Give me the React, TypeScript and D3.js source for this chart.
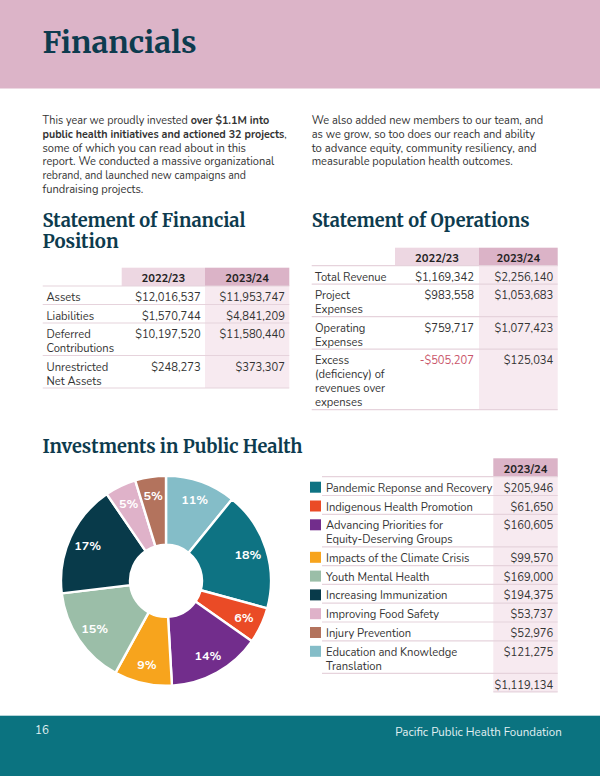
import React from "react";
import * as d3 from "d3";

const W = 600;
const H = 776;

// ---------- text content ----------
const pageTitle = "Financials";
const pageNumber = "16";
const orgName = "Pacific Public Health Foundation";

type Seg = [string, boolean];
const introLeftLines: Seg[][] = [
  [["This year we proudly invested ", false], ["over $1.1M into", true]],
  [["public health initiatives and actioned 32 projects", true], [",", false]],
  [["some of which you can read about in this", false]],
  [["report. We conducted a massive organizational", false]],
  [["rebrand, and launched new campaigns and", false]],
  [["fundraising projects.", false]],
];
const introLeftWidths = [226.8, 244.2, 203.5, 231.8, 203.5, 100.8];
const introRightLines: Seg[][] = [
  [["We also added new members to our team, and", false]],
  [["as we grow, so too does our reach and ability", false]],
  [["to advance equity, community resiliency, and", false]],
  [["measurable population health outcomes.", false]],
];
const introRightWidths = [231.6, 223.3, 225, 201];

// ---------- Statement of Financial Position ----------
const fpTitle = ["Statement of Financial", "Position"];
const years = ["2022/23", "2023/24"];
const fpLabels = [["Assets"], ["Liabilities"], ["Deferred", "Contributions"], ["Unrestricted", "Net Assets"]];
const fp2223 = [12016537, 1570744, 10197520, 248273];
const fp2324 = [11953747, 4841209, 11580440, 373307];

// ---------- Statement of Operations ----------
const opsTitle = ["Statement of Operations"];
const opsLabels = [["Total Revenue"], ["Project", "Expenses"], ["Operating", "Expenses"], ["Excess", "(deficiency) of", "revenues over", "expenses"]];
const ops2223 = [1169342, 983558, 759717, -505207];
const ops2324 = [2256140, 1053683, 1077423, 125034];

// ---------- Investments ----------
const invTitle = "Investments in Public Health";
const invYear = "2023/24";
const invCategories = [
  "Pandemic Reponse and Recovery",
  "Indigenous Health Promotion",
  "Advancing Priorities for Equity-Deserving Groups",
  "Impacts of the Climate Crisis",
  "Youth Mental Health",
  "Increasing Immunization",
  "Improving Food Safety",
  "Injury Prevention",
  "Education and Knowledge Translation",
];
const invLabelLines = [
  ["Pandemic Reponse and Recovery"],
  ["Indigenous Health Promotion"],
  ["Advancing Priorities for", "Equity-Deserving Groups"],
  ["Impacts of the Climate Crisis"],
  ["Youth Mental Health"],
  ["Increasing Immunization"],
  ["Improving Food Safety"],
  ["Injury Prevention"],
  ["Education and Knowledge", "Translation"],
];
const invValues = [205946, 61650, 160605, 99570, 169000, 194375, 53737, 52976, 121275];
const invColors = ["#0e7383", "#ea4b26", "#722d8c", "#f7a41d", "#9bbea8", "#083a4a", "#dfb2c9", "#b3735d", "#84bdc8"];
// pie starts at 12 o'clock with the last category, then the rest clockwise
const pieOrder = [8, 0, 1, 2, 3, 4, 5, 6, 7];

// ---------- styles ----------
const C = {
  band: "#dcb4c8",
  navy: "#0d3b4e",
  text: "#333333",
  hdrLight: "#edd7e2",
  hdrDark: "#dbb3c7",
  colBg: "#f7eaf0",
  rule: "#e6d3dc",
  neg: "#c9556a",
  footer: "#0b7380",
  footerText: "#e3f1f3",
};
const SANS = "Nunito, Lato, 'Noto Sans', sans-serif";
const SERIF = "Merriweather, 'DejaVu Serif', serif";

const money = (v: number) => (v < 0 ? "-" : "") + d3.format("$,.0f")(Math.abs(v));

function Paragraph({ x, y, lines, widths, lh }: { x: number; y: number; lines: Seg[][]; widths: number[]; lh: number }) {
  return (
    <g fontFamily={SANS} fontSize={11} fill={C.text}>
      {lines.map((segs, i) => (
        <text key={i} x={x} y={y + i * lh} textLength={widths[i]} lengthAdjust="spacingAndGlyphs">
          {segs.map(([t, b], j) => (
            <tspan key={j} fontWeight={b ? 700 : 400}>
              {t}
            </tspan>
          ))}
        </text>
      ))}
    </g>
  );
}

interface TableProps {
  left: number;
  right: number;
  colA: number;
  colB: number;
  labelX: number;
  valRight: [number, number];
  headerTop: number;
  headerH: number;
  labels: string[][];
  v1: number[];
  v2: number[];
}

function StatTable(p: TableProps) {
  const base = 18.5;
  const lh = 14;
  const heights = p.labels.map((l) => base + (l.length - 1) * lh);
  const bodyTop = p.headerTop + p.headerH;
  const tops = [bodyTop, ...Array.from(d3.cumsum(heights)).map((c) => bodyTop + c)];
  const bottom = tops[tops.length - 1];
  return (
    <g fontFamily={SANS} fontSize={11.2}>
      <rect x={p.colA} y={p.headerTop} width={p.colB - p.colA} height={p.headerH} fill={C.hdrLight} />
      <rect x={p.colB} y={p.headerTop} width={p.right - p.colB} height={p.headerH} fill={C.hdrDark} />
      <rect x={p.colB} y={bodyTop} width={p.right - p.colB} height={bottom - bodyTop} fill={C.colBg} />
      {years.map((yr, i) => (
        <text
          key={yr}
          x={i === 0 ? (p.colA + p.colB) / 2 : (p.colB + p.right) / 2}
          y={p.headerTop + p.headerH - 3.8}
          textAnchor="middle"
          fontWeight={700}
          fill="#222"
        >
          {yr}
        </text>
      ))}
      {tops.map((t, i) => (
        <line key={"r" + i} x1={p.left} x2={p.right} y1={t} y2={t} stroke={C.rule} strokeWidth={1.2} />
      ))}
      {p.labels.map((lines, i) => (
        <g key={i}>
          {lines.map((l, j) => (
            <text key={j} x={p.labelX} y={tops[i] + 15 + j * lh} fill={C.text}>
              {l}
            </text>
          ))}
          <text x={p.valRight[0]} y={tops[i] + 15} textAnchor="end" fill={p.v1[i] < 0 ? C.neg : C.text}>
            {money(p.v1[i])}
          </text>
          <text x={p.valRight[1]} y={tops[i] + 15} textAnchor="end" fill={p.v2[i] < 0 ? C.neg : C.text}>
            {money(p.v2[i])}
          </text>
        </g>
      ))}
    </g>
  );
}

function InvestTable() {
  const left = 322;
  const colA = 493.3;
  const right = 557.7;
  const headerTop = 458.3;
  const headerH = 18.4;
  const base = 18.8;
  const lh = 13.7;
  const heights = invLabelLines.map((l) => base + (l.length - 1) * lh);
  const bodyTop = headerTop + headerH;
  const tops = [bodyTop, ...Array.from(d3.cumsum(heights)).map((c) => bodyTop + c)];
  const endRows = tops[tops.length - 1];
  const totalBottom = endRows + 18.6;
  const total = d3.sum(invValues);
  return (
    <g fontFamily={SANS} fontSize={11.2}>
      <rect x={colA} y={headerTop} width={right - colA} height={headerH} fill={C.hdrDark} />
      <rect x={colA} y={bodyTop} width={right - colA} height={totalBottom - bodyTop} fill={C.colBg} />
      <text x={(colA + right) / 2} y={headerTop + 14.6} textAnchor="middle" fontWeight={700} fill="#222">
        {invYear}
      </text>
      {tops.map((t, i) => (
        <line key={"l" + i} x1={left} x2={right} y1={t} y2={t} stroke={C.rule} strokeWidth={1.2} />
      ))}
      <line x1={colA} x2={right} y1={totalBottom} y2={totalBottom} stroke={C.rule} strokeWidth={1.2} />
      {invLabelLines.map((lines, i) => (
        <g key={invCategories[i]}>
          <rect x={310} y={tops[i] + 5} width={11} height={11} fill={invColors[i]} />
          {lines.map((l, j) => (
            <text key={j} x={326} y={tops[i] + 15 + j * lh} fill={C.text}>
              {l}
            </text>
          ))}
          <text x={553.3} y={tops[i] + 15} textAnchor="end" fill={C.text}>
            {money(invValues[i])}
          </text>
        </g>
      ))}
      <text x={553.3} y={endRows + 15.2} textAnchor="end" fill={C.text}>
        {money(total)}
      </text>
    </g>
  );
}

function Donut() {
  const cx = 166;
  const cy = 580.8;
  const total = d3.sum(invValues);
  const ordered = pieOrder.map((i) => ({ i, v: invValues[i] }));
  const arcs = d3
    .pie<{ i: number; v: number }>()
    .sort(null)
    .value((d) => d.v)(ordered);
  const arc = d3.arc<d3.PieArcDatum<{ i: number; v: number }>>().innerRadius(36).outerRadius(105);
  const labelArc = d3.arc<d3.PieArcDatum<{ i: number; v: number }>>().innerRadius(86).outerRadius(86);
  return (
    <g transform={`translate(${cx},${cy})`}>
      {arcs.map((a) => (
        <path key={a.data.i} d={arc(a) || ""} fill={invColors[a.data.i]} stroke="#fff" strokeWidth={2.4} strokeLinejoin="round" />
      ))}
      {arcs.map((a) => {
        const [x, y] = labelArc.centroid(a);
        return (
          <text
            key={"t" + a.data.i}
            x={x}
            y={y}
            dy="0.36em"
            textAnchor="middle"
            fill="#fff"
            fontFamily={SANS}
            fontWeight={700}
            fontSize={12.5}
          >
            {Math.round((a.data.v / total) * 100) + "%"}
          </text>
        );
      })}
    </g>
  );
}

export default function App() {
  return (
    <svg
      width={W}
      height={H}
      viewBox={`0 0 ${W} ${H}`}
      style={{ position: "absolute", left: 0, top: 0, display: "block", background: "#fff" }}
    >
      <rect x={0} y={0} width={W} height={88.5} fill={C.band} />
      <text x={42.5} y={53.3} fontFamily={SERIF} fontWeight={700} fontSize={30} fill={C.navy} textLength={154} lengthAdjust="spacingAndGlyphs">
        {pageTitle}
      </text>

      <Paragraph x={42.5} y={124} lines={introLeftLines} widths={introLeftWidths} lh={13.75} />
      <Paragraph x={311.7} y={124} lines={introRightLines} widths={introRightWidths} lh={13.75} />

      <g fontFamily={SERIF} fontWeight={700} fontSize={18.5} fill={C.navy}>
        <text x={42.5} y={226.5} textLength={203} lengthAdjust="spacingAndGlyphs">{fpTitle[0]}</text>
        <text x={42.5} y={248} textLength={76} lengthAdjust="spacingAndGlyphs">{fpTitle[1]}</text>
        <text x={311.7} y={226.5} textLength={218} lengthAdjust="spacingAndGlyphs">{opsTitle[0]}</text>
        <text x={42.5} y={453} textLength={260} lengthAdjust="spacingAndGlyphs">{invTitle}</text>
      </g>

      <StatTable
        left={42.7}
        right={289.3}
        colA={121.7}
        colB={205}
        labelX={46.5}
        valRight={[200.7, 285]}
        headerTop={267.7}
        headerH={18.3}
        labels={fpLabels}
        v1={fp2223}
        v2={fp2324}
      />
      <StatTable
        left={311.7}
        right={557.7}
        colA={395}
        colB={479}
        labelX={315}
        valRight={[474, 553.3]}
        headerTop={247.7}
        headerH={18}
        labels={opsLabels}
        v1={ops2223}
        v2={ops2324}
      />

      <Donut />
      <InvestTable />

      <rect x={0} y={715.7} width={W} height={H - 715.7} fill={C.footer} />
      <g fontFamily={SANS} fontSize={11.5} fill={C.footerText}>
        <text x={35} y={734.2}>{pageNumber}</text>
        <text x={561.7} y={736.4} textAnchor="end">{orgName}</text>
      </g>
    </svg>
  );
}
